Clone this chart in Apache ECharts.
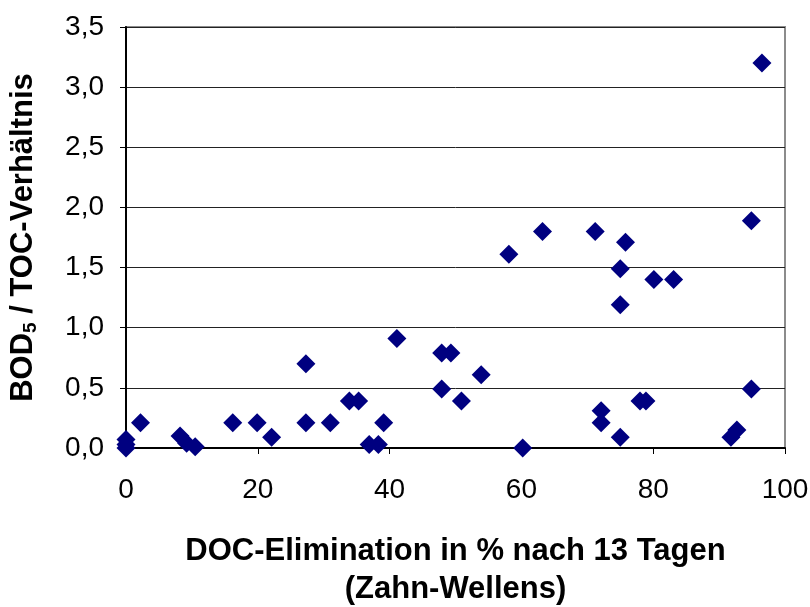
<!DOCTYPE html>
<html>
<head>
<meta charset="utf-8">
<script src="https://cdn.jsdelivr.net/npm/echarts@6/dist/echarts.min.js"></script>
<style>
  html, body { margin: 0; padding: 0; background: #ffffff; }
  #chart { width: 810px; height: 607px; }
</style>
</head>
<body>
<div id="chart"></div>
<script>
// DOC-Elimination (%) und BOD5/TOC-Verhältnis
var docElim = [0, 0, 0, 2.2, 8.2, 9.2, 10.5, 16.2, 19.9, 22.1, 27.3, 27.3, 31.0, 33.9, 35.3, 36.9, 38.3, 39.1, 41.1,
  47.9, 49.3, 47.9, 50.9, 53.9, 60.2, 58.1, 63.2, 71.2, 75.8, 75.0, 80.1, 83.1, 75.0, 94.9, 94.9,
  72.1, 72.1, 75.0, 78.0, 78.9, 91.8, 92.7, 96.5];
var bodToc = [0, 0.03, 0.07, 0.21, 0.1, 0.04, 0.01, 0.21, 0.21, 0.09, 0.70, 0.21, 0.21, 0.39, 0.39, 0.03, 0.03, 0.21, 0.91,
  0.79, 0.79, 0.49, 0.39, 0.61, 0.0, 1.61, 1.80, 1.80, 1.71, 1.49, 1.40, 1.40, 1.19, 1.89, 0.49,
  0.31, 0.21, 0.09, 0.39, 0.39, 0.09, 0.15, 3.20];
var xTicks = [0, 20, 40, 60, 80, 100];
var yTicks = [0, 0.5, 1.0, 1.5, 2.0, 2.5, 3.0, 3.5];

var points = docElim.map(function (x, i) { return [x, bodToc[i]]; });
var font = "Liberation Sans";

var chart = echarts.init(document.getElementById("chart"));
chart.setOption({
  animation: false,
  backgroundColor: "#ffffff",
  grid: {
    left: 126,
    right: 25,
    top: 27,
    bottom: 159,
    outerBoundsMode: "none",
    containLabel: false,
    show: true,
    borderColor: "#8c8c8c",
    borderWidth: 2
  },
  xAxis: {
    type: "value",
    min: xTicks[0],
    max: xTicks[xTicks.length - 1],
    interval: 20,
    name: "DOC-Elimination in % nach 13 Tagen\n(Zahn-Wellens)",
    nameLocation: "middle",
    nameGap: 84,
    nameTextStyle: {
      fontFamily: font,
      fontWeight: "bold",
      fontSize: 31,
      lineHeight: 38,
      color: "#000"
    },
    axisLine: { lineStyle: { color: "#000", width: 2 } },
    axisTick: { show: true, length: 6, lineStyle: { color: "#000", width: 1 } },
    axisLabel: {
      fontFamily: font,
      fontSize: 28,
      color: "#000",
      margin: 28
    },
    splitLine: { show: false }
  },
  yAxis: {
    type: "value",
    min: yTicks[0],
    max: yTicks[yTicks.length - 1],
    interval: 0.5,
    name: "BOD{sub|5} / TOC-Verhältnis",
    nameLocation: "middle",
    nameGap: 86,
    nameTextStyle: {
      fontFamily: font,
      fontWeight: "bold",
      fontSize: 31,
      color: "#000",
      rich: {
        sub: {
          fontFamily: font,
          fontWeight: "bold",
          fontSize: 19,
          color: "#000",
          verticalAlign: "bottom",
          padding: [14, 0, 0, 0]
        }
      }
    },
    axisLine: { show: true, lineStyle: { color: "#000", width: 2 } },
    axisTick: { show: true, length: 6, lineStyle: { color: "#000", width: 1 } },
    axisLabel: {
      fontFamily: font,
      fontSize: 28,
      color: "#000",
      margin: 22,
      formatter: function (v) { return v.toFixed(1).replace(".", ","); }
    },
    splitLine: { show: true, lineStyle: { color: "#222", width: 1 } }
  },
  series: [{
    type: "scatter",
    symbol: "diamond",
    symbolSize: 19,
    itemStyle: { color: "#000080", opacity: 1 },
    data: points
  }]
});
</script>
</body>
</html>
